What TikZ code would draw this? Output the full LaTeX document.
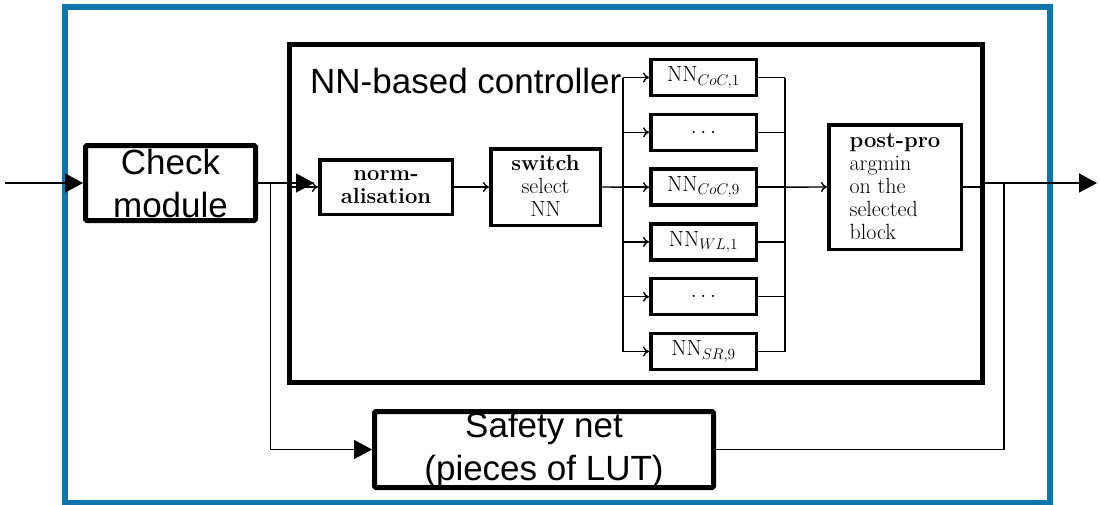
\RequirePackage{fix-cm}
\documentclass[tikz,border=0pt]{standalone}
\usepackage{fontspec}
\newfontfamily\arialfont{Liberation Sans}
\usetikzlibrary{arrows.meta}
\definecolor{frameblue}{RGB}{14,116,170}
\begin{document}
\begin{tikzpicture}[x=1pt,y=-1pt,
  bigbox/.style={draw, line width=5pt, rounded corners=1.5pt, inner sep=0pt, align=center,
    font=\arialfont\fontsize{35}{43}\selectfont},
  innerbox/.style={draw, line width=3.5pt, inner sep=0pt, align=center,
    font=\fontsize{22}{23}\selectfont},
  nnbox/.style={innerbox, minimum width=105.5, minimum height=36},
  thinline/.style={line width=1.4pt},
  sarrow/.style={thinline, -{To[length=6pt,width=10pt]}},
  barrow/.style={line width=1.5pt, -{Triangle[length=18pt,width=19pt]}},
  plainline/.style={line width=1.5pt}]
\useasboundingbox (0,0) rectangle (1100,504);

% outer blue frame
\node[draw=frameblue, line width=6pt, inner sep=0pt, minimum width=985, minimum height=496] (frame) at (557.5,255) {};

% NN-based controller container
\node[draw, line width=5pt, inner sep=0pt, minimum width=693, minimum height=338] (ctrl) at (636,213.5) {};
\node[anchor=base west, inner sep=0pt, font=\arialfont\fontsize{35}{43}\selectfont] (ctrltitle) at (310,93) {NN-based controller};

% main blocks
\node[bigbox, minimum width=170, minimum height=75] (check) at (170.5,183) {Check\\module};
\node[bigbox, minimum width=339, minimum height=76] (safety) at (544,449.5) {Safety net\\(pieces of LUT)};

% inner blocks
\node[innerbox, minimum width=132.5, minimum height=54.5] (norm) at (386,187) {\textbf{norm-}\\\textbf{alisation}};
\node[innerbox, minimum width=109.5, minimum height=76.5] (switch) at (545.5,187) {\raisebox{3pt}{\textbf{switch}}\\\raisebox{3pt}{select}\\\raisebox{3pt}{NN}};
\node[nnbox] (nn1) at (703.5,77.5) {$\mathrm{NN}_{CoC,1}$};
\node[nnbox] (nn2) at (703.5,132.3) {$\ldots$};
\node[nnbox] (nn3) at (703.5,187.1) {$\mathrm{NN}_{CoC,9}$};
\node[nnbox] (nn4) at (703.5,241.9) {$\mathrm{NN}_{WL,1}$};
\node[nnbox] (nn5) at (703.5,296.7) {$\ldots$};
\node[nnbox] (nn6) at (703.5,351.5) {$\mathrm{NN}_{SR,9}$};
\node[innerbox, minimum width=132.5, minimum height=124.5, align=left] (post) at (895,187)
  {\textbf{post-pro}\\argmin\\on the\\selected\\block};

% coordinates
\coordinate (in) at (5,183);
\coordinate (out) at (1097,183);
\coordinate (split) at (270.7,183);
\coordinate (join) at (1004,183);
\coordinate (busL) at (623,187.1);
\coordinate (busR) at (785,187.1);

% outer connectors
\draw[barrow] (in) -- (check.west);
\draw[barrow] (check.east) -- ([xshift=-4pt]norm.west |- check.east);
\draw[barrow] (split) |- (safety.west);
\draw[plainline] (safety.east) -| (join);
\draw[barrow] (ctrl.east |- out) -- (out);

% inner connectors
\draw[sarrow] (ctrl.west |- norm.west) -- (norm.west);
\draw[sarrow] (norm.east) -- (switch.west);
\draw[thinline] (switch.east) -- (busL);
\draw[thinline] (busL |- nn1.west) -- (busL |- nn6.west);
\draw[thinline] (busR |- nn1.east) -- (busR |- nn6.east);
\foreach \n in {nn1,nn2,nn3,nn4,nn5,nn6}{
  \draw[sarrow] (busL |- \n.west) -- (\n.west);
  \draw[thinline] (\n.east) -- (busR |- \n.east);
}
\draw[sarrow] (busR) -- (post.west);
\draw[thinline] (post.east) -- (post.east -| ctrl.east);
\end{tikzpicture}
\end{document}
